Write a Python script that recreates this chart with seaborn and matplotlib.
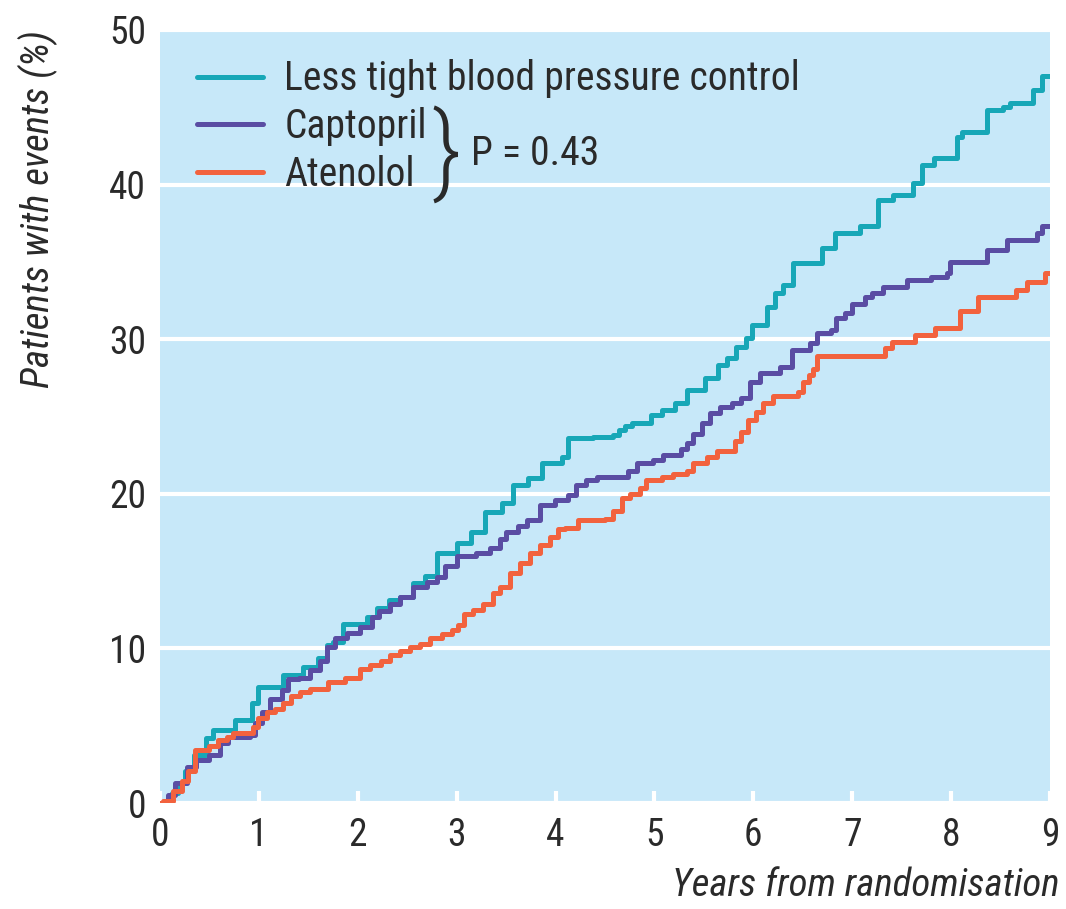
import matplotlib
matplotlib.use("Agg")
from matplotlib import pyplot as plt
from matplotlib import font_manager
import seaborn as sns
import pandas as pd

# Kaplan-Meier style step data: (years, % with events)
LESS_TIGHT = [
    (0, 0), (0.07, 0), (0.12, 0.65), (0.18, 1.3), (0.25, 2.1), (0.34, 3.1),
    (0.47, 4.2), (0.54, 4.7), (0.76, 5.4), (0.93, 6.5), (0.99, 7.5), (1.24, 8.3),
    (1.45, 8.8), (1.6, 9.4), (1.69, 10.2), (1.75, 10.4), (1.85, 11.6), (2.09, 12.0),
    (2.2, 12.6), (2.32, 13.1), (2.43, 13.3), (2.56, 14.2), (2.68, 14.7), (2.8, 16.2),
    (3.0, 16.8), (3.15, 17.5), (3.29, 18.8), (3.46, 19.4), (3.57, 20.6), (3.72, 21.0),
    (3.86, 22.0), (4.07, 22.4), (4.13, 23.6), (4.38, 23.7), (4.58, 23.8), (4.64, 24.1),
    (4.70, 24.4), (4.77, 24.6), (4.97, 25.1), (5.08, 25.4), (5.21, 25.9), (5.33, 26.7),
    (5.51, 27.5), (5.64, 28.3), (5.73, 28.8), (5.83, 29.5), (5.93, 30.1), (5.99, 30.9),
    (6.14, 32.1), (6.22, 33.0), (6.3, 33.5), (6.4, 34.9), (6.69, 35.9), (6.83, 36.9),
    (7.08, 37.3), (7.26, 39.0), (7.41, 39.3), (7.61, 40.1), (7.71, 41.3), (7.83, 41.7),
    (8.06, 43.1), (8.11, 43.4), (8.36, 44.8), (8.52, 45.0), (8.6, 45.3), (8.83, 46.1),
    (8.92, 47.0), (9.0, 47.0),
]

CAPTOPRIL = [
    (0, 0), (0.08, 0.5), (0.15, 1.3), (0.27, 2.3), (0.37, 2.8), (0.5, 3.1),
    (0.61, 3.9), (0.69, 4.3), (0.91, 4.4), (0.96, 5.2), (1.03, 5.9), (1.11, 6.7),
    (1.23, 7.3), (1.3, 8.0), (1.41, 8.1), (1.52, 8.6), (1.62, 9.2), (1.69, 10.1),
    (1.77, 10.7), (1.89, 11.0), (2.02, 11.4), (2.14, 12.0), (2.22, 12.4), (2.33, 12.9),
    (2.43, 13.3), (2.56, 14.0), (2.7, 14.3), (2.8, 14.6), (2.88, 15.3), (3.0, 16.0),
    (3.2, 16.2), (3.34, 16.5), (3.44, 17.1), (3.5, 17.5), (3.62, 17.9), (3.71, 18.3),
    (3.84, 19.3), (3.99, 19.6), (4.13, 19.9), (4.21, 20.6), (4.31, 20.9), (4.42, 21.1),
    (4.73, 21.5), (4.82, 22.0), (4.99, 22.2), (5.09, 22.5), (5.27, 22.9), (5.33, 23.3),
    (5.39, 23.9), (5.48, 24.6), (5.56, 25.2), (5.66, 25.6), (5.78, 25.9), (5.88, 26.2),
    (5.97, 27.2), (6.07, 27.8), (6.27, 28.2), (6.39, 29.3), (6.57, 29.75), (6.64, 30.4),
    (6.79, 30.6), (6.84, 31.4), (6.93, 31.7), (7.0, 32.3), (7.13, 32.7), (7.2, 33.0),
    (7.31, 33.4), (7.55, 33.8), (7.8, 34.0), (7.96, 34.3), (7.99, 35.0), (8.36, 35.8),
    (8.57, 36.4), (8.87, 36.9), (8.92, 37.3), (9.0, 37.3),
]

ATENOLOL = [
    (0, 0), (0.03, 0.1), (0.13, 0.8), (0.22, 1.4), (0.28, 2.1), (0.35, 3.4),
    (0.5, 3.7), (0.59, 4.1), (0.68, 4.3), (0.74, 4.5), (0.94, 4.9), (0.99, 5.5),
    (1.08, 5.9), (1.16, 6.1), (1.24, 6.5), (1.33, 6.9), (1.42, 7.2), (1.52, 7.4),
    (1.7, 7.8), (1.87, 8.1), (2.02, 8.7), (2.12, 8.9), (2.24, 9.2), (2.33, 9.6),
    (2.43, 9.8), (2.53, 10.1), (2.63, 10.3), (2.73, 10.7), (2.85, 10.9), (2.95, 11.2),
    (3.01, 11.5), (3.07, 12.2), (3.17, 12.5), (3.27, 12.9), (3.37, 13.6), (3.44, 14.0),
    (3.54, 14.9), (3.64, 15.5), (3.74, 16.2), (3.84, 16.7), (3.94, 17.2), (4.03, 17.7),
    (4.1, 17.8), (4.23, 18.3), (4.5, 18.4), (4.58, 18.9), (4.67, 19.7), (4.75, 20.0),
    (4.85, 20.4), (4.92, 20.9), (5.08, 21.1), (5.19, 21.3), (5.33, 21.5), (5.39, 22.0),
    (5.53, 22.4), (5.63, 22.8), (5.81, 23.4), (5.88, 24.0), (5.95, 24.8), (6.03, 25.3),
    (6.1, 25.9), (6.2, 26.3), (6.45, 26.6), (6.5, 27.2), (6.56, 27.7), (6.6, 28.1),
    (6.64, 28.9), (7.33, 29.4), (7.4, 29.8), (7.63, 30.3), (7.84, 30.7), (8.09, 31.8),
    (8.27, 32.7), (8.66, 33.2), (8.77, 33.7), (8.95, 34.3), (9.0, 34.3),
]

GROUPS = ["Less tight blood pressure control", "Captopril", "Atenolol"]
COLORS = ["#17a7b7", "#5a4da3", "#f2623e"]
X_TICKS = list(range(0, 10))
Y_TICKS = [0, 10, 20, 30, 40, 50]

BG = "#c7e8f9"
TEXT = "#2a2a2a"

# pick a condensed sans that is installed
names = {f.name for f in font_manager.fontManager.ttflist}
FONT = "Liberation Sans"
for cand in ["Roboto Condensed", "Archivo Narrow", "PT Sans Narrow",
             "Liberation Sans Narrow", "Pragati Narrow"]:
    if cand in names:
        FONT = cand
        break

rows = []
for name, series in zip(GROUPS, [LESS_TIGHT, CAPTOPRIL, ATENOLOL]):
    for t, v in series:
        rows.append({"years": t, "pct": v, "group": name})
df = pd.DataFrame(rows)

sns.set_style("white")
plt.rcParams["font.family"] = [FONT, "DejaVu Sans"]

fig = plt.figure(figsize=(10.66, 9.09), dpi=100)
ax = fig.add_axes([0.150, 0.1166, 0.835, 0.8504])
ax.set_facecolor(BG)

sns.lineplot(
    data=df, x="years", y="pct", hue="group", hue_order=GROUPS,
    palette=COLORS, estimator=None, sort=False, drawstyle="steps-post",
    linewidth=3.6, ax=ax,
)

ax.set_xlim(0, 9)
ax.set_ylim(0, 50)
ax.set_xticks(X_TICKS)
ax.set_yticks(Y_TICKS)
for s in ax.spines.values():
    s.set_visible(False)

ax.set_axisbelow(True)
ax.yaxis.grid(True, color="white", linewidth=3)
ax.xaxis.grid(False)
ax.tick_params(axis="x", bottom=True, direction="in", length=8.5, width=3,
               color="white", pad=10, labelsize=27, labelcolor=TEXT)
ax.tick_params(axis="y", left=False, length=0, pad=10, labelsize=27,
               labelcolor=TEXT)

ax.set_xlabel("Years from randomisation", fontsize=28, style="italic",
              color=TEXT, loc="right")
ax.xaxis.set_label_coords(1.011, -0.083)
ax.set_ylabel("Patients with events (%)", fontsize=28, style="italic",
              color=TEXT, loc="top")
ax.yaxis.set_label_coords(-0.114, 1.0)

handles, labels = ax.get_legend_handles_labels()
for h in handles:
    h.set_linewidth(3.6)
ax.legend(handles, labels, loc="upper left", bbox_to_anchor=(0.002, 1.008),
          frameon=False, fontsize=28.5, handlelength=1.65, handletextpad=0.55,
          labelspacing=0.22, labelcolor=TEXT)

ax.text(0.322, 0.838, "}", transform=ax.transAxes, fontsize=72,
        color=TEXT, ha="center", va="center", fontweight="light")
ax.text(0.349, 0.840, "P = 0.43", transform=ax.transAxes, fontsize=28.5,
        color=TEXT, ha="left", va="center")

fig.savefig("out.png", dpi=100, facecolor="white")
